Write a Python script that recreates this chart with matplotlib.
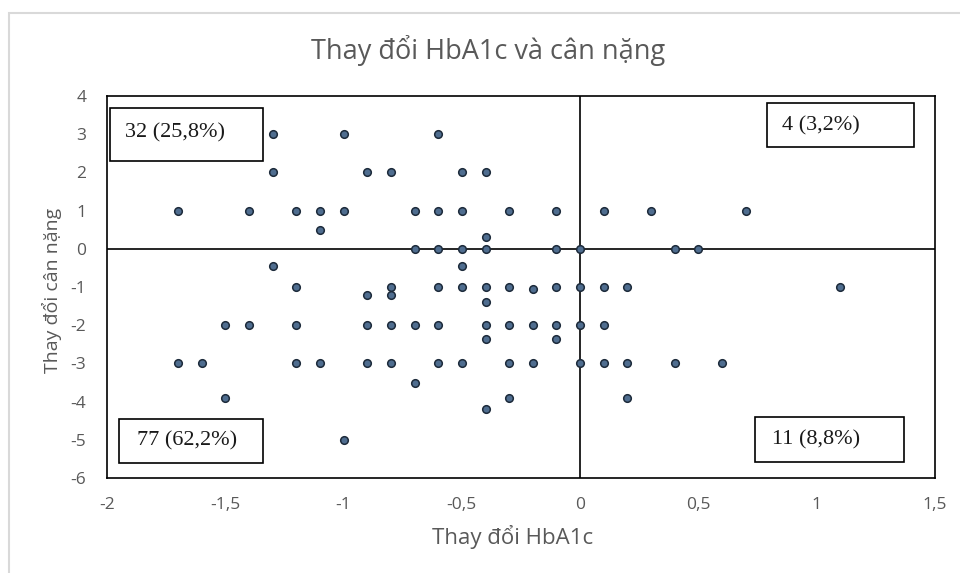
import numpy as np
import matplotlib
matplotlib.use("Agg")
import matplotlib.pyplot as plt
from matplotlib.patches import Rectangle

plt.rcParams['font.family'] = ['Open Sans', 'DejaVu Sans']

# thay doi HbA1c (x) va thay doi can nang (y), doc tu hinh
hba1c = [-1.3, -1.0, -0.6,
         -1.3, -0.9, -0.8, -0.5, -0.4,
         -1.7, -1.4, -1.2, -1.1, -1.0, -0.7, -0.6, -0.5, -0.3, -0.1, 0.1, 0.3, 0.7,
         -1.1, -0.4,
         -0.7, -0.6, -0.5, -0.4, -0.1, 0.0, 0.4, 0.5,
         -1.3, -0.5,
         -1.2, -0.8, -0.6, -0.5, -0.4, -0.3, -0.2, -0.1, 0.0, 0.1, 0.2, 1.1,
         -0.9, -0.8, -0.4,
         -1.5, -1.4, -1.2, -0.9, -0.8, -0.7, -0.6, -0.4, -0.3, -0.2, -0.1, 0.0, 0.1,
         -0.4, -0.1,
         -1.7, -1.6, -1.2, -1.1, -0.9, -0.8, -0.6, -0.5, -0.3, -0.2, 0.0, 0.1, 0.2, 0.4, 0.6,
         -0.7,
         -1.5, -0.3, 0.2,
         -0.4,
         -1.0]
can_nang = [3, 3, 3,
            2, 2, 2, 2, 2,
            1, 1, 1, 1, 1, 1, 1, 1, 1, 1, 1, 1, 1,
            0.5, 0.3,
            0, 0, 0, 0, 0, 0, 0, 0,
            -0.45, -0.45,
            -1, -1, -1, -1, -1, -1, -1.05, -1, -1, -1, -1, -1,
            -1.2, -1.2, -1.4,
            -2, -2, -2, -2, -2, -2, -2, -2, -2, -2, -2, -2, -2,
            -2.35, -2.35,
            -3, -3, -3, -3, -3, -3, -3, -3, -3, -3, -3, -3, -3, -3, -3,
            -3.5,
            -3.9, -3.9, -3.9,
            -4.2,
            -5]

quad_labels = ["32 (25,8%)", "4 (3,2%)", "11 (8,8%)", "77 (62,2%)"]
x_ticks = [-2, -1.5, -1, -0.5, 0, 0.5, 1, 1.5]
y_ticks = [4, 3, 2, 1, 0, -1, -2, -3, -4, -5, -6]

grey = '#595959'

fig = plt.figure(figsize=(9.6, 5.73), dpi=100)
ax = fig.add_axes([107/960, 95/573, 828/960, 382/573])

ax.axhline(0, color='black', lw=1.2, zorder=1)
ax.axvline(0, color='black', lw=1.2, zorder=1)
ax.scatter(hba1c, can_nang, s=30, facecolor='#4f6d8f', edgecolor='#1c2a3a',
           linewidths=1.1, zorder=3)

ax.set_xlim(-2, 1.5)
ax.set_ylim(-6, 4)
ax.set_xticks(x_ticks)
ax.set_xticklabels([('%g' % v).replace('.', ',') for v in x_ticks])
ax.set_yticks(y_ticks)
ax.set_yticklabels(['%g' % v for v in y_ticks])
ax.tick_params(length=0, labelsize=12.5, colors=grey)
ax.tick_params(axis='x', pad=14)
ax.tick_params(axis='y', pad=15)
for s in ax.spines.values():
    s.set_linewidth(1.2)
    s.set_color('black')

# hop ghi so luong tung goc phan tu
boxes = [(0.004, 0.830, 0.185, 0.139, 0.022, 0.903),
         (0.797, 0.866, 0.178, 0.115, 0.815, 0.921),
         (0.783, 0.042, 0.180, 0.118, 0.803, 0.099),
         (0.015, 0.039, 0.173, 0.115, 0.036, 0.097)]
for (bx, by, bw, bh, tx, ty), lab in zip(boxes, quad_labels):
    ax.add_patch(Rectangle((bx, by), bw, bh, transform=ax.transAxes,
                           fill=True, facecolor='white', edgecolor='black',
                           lw=1.2, zorder=4))
    ax.text(tx, ty, lab, transform=ax.transAxes, ha='left', va='center',
            fontsize=16, family='Liberation Serif', color='#1a1a1a', zorder=5)

fig.text(488/960, 1 - 50/573, 'Thay đổi HbA1c và cân nặng', ha='center',
         va='center', fontsize=19.5, color=grey)
fig.text(513/960, 1 - 537/573, 'Thay đổi HbA1c', ha='center', va='center',
         fontsize=16, color=grey)
fig.text(52/960, 1 - 290/573, 'Thay đổi cân nặng', ha='center', va='center',
         rotation=90, fontsize=14, color=grey)

fig.patches.append(Rectangle((9/960, -0.05), 1.0, 1 - 13/573 + 0.05,
                             transform=fig.transFigure, fill=False,
                             edgecolor='#d9d9d9', lw=1.5))

fig.savefig('out.png', dpi=100)
